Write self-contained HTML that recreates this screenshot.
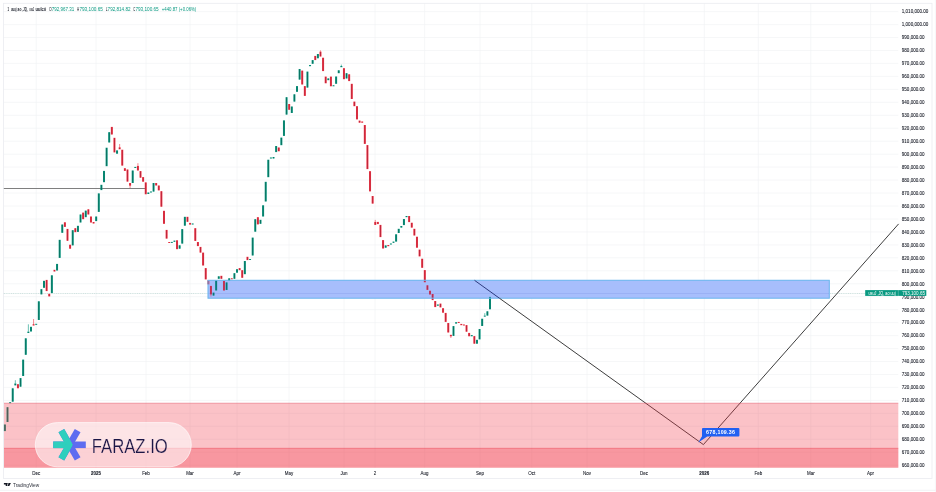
<!DOCTYPE html><html><head><meta charset="utf-8"><title>chart</title><style>
html,body{margin:0;padding:0;background:#fff;width:936px;height:492px;overflow:hidden}
svg{display:block;will-change:transform}text{font-family:"Liberation Sans",sans-serif}
</style></head><body>
<svg width="936" height="492" viewBox="0 0 936 492">
<rect x="0" y="0" width="936" height="492" fill="#fff"/>
<g stroke="#f1f2f4" stroke-width="0.65"><line x1="3.5" y1="11.6" x2="898.3" y2="11.6"/><line x1="3.5" y1="24.6" x2="898.3" y2="24.6"/><line x1="3.5" y1="37.5" x2="898.3" y2="37.5"/><line x1="3.5" y1="50.5" x2="898.3" y2="50.5"/><line x1="3.5" y1="63.4" x2="898.3" y2="63.4"/><line x1="3.5" y1="76.4" x2="898.3" y2="76.4"/><line x1="3.5" y1="89.4" x2="898.3" y2="89.4"/><line x1="3.5" y1="102.3" x2="898.3" y2="102.3"/><line x1="3.5" y1="115.3" x2="898.3" y2="115.3"/><line x1="3.5" y1="128.2" x2="898.3" y2="128.2"/><line x1="3.5" y1="141.2" x2="898.3" y2="141.2"/><line x1="3.5" y1="154.2" x2="898.3" y2="154.2"/><line x1="3.5" y1="167.1" x2="898.3" y2="167.1"/><line x1="3.5" y1="180.1" x2="898.3" y2="180.1"/><line x1="3.5" y1="193.0" x2="898.3" y2="193.0"/><line x1="3.5" y1="206.0" x2="898.3" y2="206.0"/><line x1="3.5" y1="219.0" x2="898.3" y2="219.0"/><line x1="3.5" y1="231.9" x2="898.3" y2="231.9"/><line x1="3.5" y1="244.9" x2="898.3" y2="244.9"/><line x1="3.5" y1="257.8" x2="898.3" y2="257.8"/><line x1="3.5" y1="270.8" x2="898.3" y2="270.8"/><line x1="3.5" y1="283.8" x2="898.3" y2="283.8"/><line x1="3.5" y1="296.7" x2="898.3" y2="296.7"/><line x1="3.5" y1="309.7" x2="898.3" y2="309.7"/><line x1="3.5" y1="322.6" x2="898.3" y2="322.6"/><line x1="3.5" y1="335.6" x2="898.3" y2="335.6"/><line x1="3.5" y1="348.6" x2="898.3" y2="348.6"/><line x1="3.5" y1="361.5" x2="898.3" y2="361.5"/><line x1="3.5" y1="374.5" x2="898.3" y2="374.5"/><line x1="3.5" y1="387.4" x2="898.3" y2="387.4"/><line x1="3.5" y1="400.4" x2="898.3" y2="400.4"/><line x1="3.5" y1="413.4" x2="898.3" y2="413.4"/><line x1="3.5" y1="426.3" x2="898.3" y2="426.3"/><line x1="3.5" y1="439.3" x2="898.3" y2="439.3"/><line x1="3.5" y1="452.2" x2="898.3" y2="452.2"/><line x1="3.5" y1="465.2" x2="898.3" y2="465.2"/><line x1="36.2" y1="3.5" x2="36.2" y2="467.7"/><line x1="96" y1="3.5" x2="96" y2="467.7"/><line x1="146" y1="3.5" x2="146" y2="467.7"/><line x1="190" y1="3.5" x2="190" y2="467.7"/><line x1="237" y1="3.5" x2="237" y2="467.7"/><line x1="289" y1="3.5" x2="289" y2="467.7"/><line x1="344" y1="3.5" x2="344" y2="467.7"/><line x1="375" y1="3.5" x2="375" y2="467.7"/><line x1="424.6" y1="3.5" x2="424.6" y2="467.7"/><line x1="480" y1="3.5" x2="480" y2="467.7"/><line x1="531.8" y1="3.5" x2="531.8" y2="467.7"/><line x1="587" y1="3.5" x2="587" y2="467.7"/><line x1="644" y1="3.5" x2="644" y2="467.7"/><line x1="704.3" y1="3.5" x2="704.3" y2="467.7"/><line x1="758.3" y1="3.5" x2="758.3" y2="467.7"/><line x1="810.8" y1="3.5" x2="810.8" y2="467.7"/><line x1="870.6" y1="3.5" x2="870.6" y2="467.7"/></g>
<rect x="3.4" y="3.3" width="928.6" height="475.1" fill="none" stroke="#eaecf0" stroke-width="0.8"/>
<line x1="0" y1="490.3" x2="936" y2="490.3" stroke="#f0f0f2" stroke-width="0.8"/>
<line x1="935.4" y1="0" x2="935.4" y2="492" stroke="#f4f4f6" stroke-width="0.8"/>
<line x1="3.8" y1="188.5" x2="146" y2="188.5" stroke="#707070" stroke-width="0.9"/>
<rect x="208" y="280.3" width="621.3" height="17.9" fill="#b9cbfc"/>
<g><rect x="3.90" y="424.5" width="2" height="6.6" fill="#089981"/><rect x="4.45" y="424.8" width="0.9" height="6.0" fill="#0b6e5e"/><rect x="6.51" y="407.2" width="2" height="14.8" fill="#089981"/><rect x="7.06" y="407.5" width="0.9" height="14.2" fill="#0b6e5e"/><rect x="9.12" y="402.2" width="2" height="1.0" fill="#089981"/><rect x="9.67" y="402.6" width="0.9" height="0.4" fill="#0b6e5e"/><rect x="11.72" y="388.3" width="2" height="13.4" fill="#089981"/><rect x="12.27" y="388.6" width="0.9" height="12.8" fill="#0b6e5e"/><rect x="14.33" y="383.5" width="2" height="1.9" fill="#089981"/><rect x="14.88" y="383.8" width="0.9" height="1.3" fill="#0b6e5e"/><line x1="15.33" y1="380.2" x2="15.33" y2="383.5" stroke="#089981" stroke-width="0.6"/><rect x="16.94" y="384.2" width="2" height="4.1" fill="#F23645"/><rect x="17.49" y="384.5" width="0.9" height="3.5" fill="#b8243a"/><rect x="19.55" y="378.1" width="2" height="8.6" fill="#089981"/><rect x="20.10" y="378.4" width="0.9" height="8.0" fill="#0b6e5e"/><rect x="22.16" y="359.6" width="2" height="16.4" fill="#089981"/><rect x="22.71" y="359.9" width="0.9" height="15.8" fill="#0b6e5e"/><rect x="24.76" y="338.3" width="2" height="16.5" fill="#089981"/><rect x="25.31" y="338.6" width="0.9" height="15.9" fill="#0b6e5e"/><rect x="27.37" y="331.6" width="2" height="1.4" fill="#089981"/><rect x="27.92" y="331.9" width="0.9" height="0.8" fill="#0b6e5e"/><line x1="28.37" y1="324.3" x2="28.37" y2="331.6" stroke="#089981" stroke-width="0.6"/><rect x="29.98" y="326.8" width="2" height="4.7" fill="#089981"/><rect x="30.53" y="327.1" width="0.9" height="4.1" fill="#0b6e5e"/><rect x="32.59" y="324.2" width="2" height="1.3" fill="#F23645"/><rect x="33.14" y="324.5" width="0.9" height="0.7" fill="#b8243a"/><line x1="33.59" y1="319.0" x2="33.59" y2="324.2" stroke="#F23645" stroke-width="0.6"/><rect x="35.20" y="323.8" width="2" height="1.0" fill="#089981"/><rect x="35.75" y="324.1" width="0.9" height="0.4" fill="#0b6e5e"/><rect x="37.80" y="301.3" width="2" height="18.7" fill="#089981"/><rect x="38.35" y="301.6" width="0.9" height="18.1" fill="#0b6e5e"/><rect x="40.41" y="289.2" width="2" height="5.2" fill="#089981"/><rect x="40.96" y="289.5" width="0.9" height="4.6" fill="#0b6e5e"/><rect x="43.02" y="280.8" width="2" height="7.0" fill="#089981"/><rect x="43.57" y="281.1" width="0.9" height="6.4" fill="#0b6e5e"/><rect x="45.63" y="279.9" width="2" height="11.2" fill="#F23645"/><rect x="46.18" y="280.2" width="0.9" height="10.6" fill="#b8243a"/><rect x="48.24" y="293.8" width="2" height="2.6" fill="#F23645"/><rect x="48.79" y="294.1" width="0.9" height="2.0" fill="#b8243a"/><rect x="50.85" y="275.3" width="2" height="17.8" fill="#089981"/><rect x="51.40" y="275.6" width="0.9" height="17.2" fill="#0b6e5e"/><rect x="53.45" y="269.8" width="2" height="1.7" fill="#F23645"/><rect x="54.00" y="270.1" width="0.9" height="1.1" fill="#b8243a"/><rect x="56.06" y="263.9" width="2" height="6.6" fill="#089981"/><rect x="56.61" y="264.2" width="0.9" height="6.0" fill="#0b6e5e"/><rect x="58.67" y="239.8" width="2" height="18.1" fill="#089981"/><rect x="59.22" y="240.1" width="0.9" height="17.5" fill="#0b6e5e"/><rect x="61.28" y="224.5" width="2" height="8.3" fill="#089981"/><rect x="61.83" y="224.8" width="0.9" height="7.7" fill="#0b6e5e"/><rect x="63.89" y="222.3" width="2" height="4.6" fill="#F23645"/><rect x="64.44" y="222.6" width="0.9" height="4.0" fill="#b8243a"/><rect x="66.49" y="228.9" width="2" height="11.9" fill="#F23645"/><rect x="67.04" y="229.2" width="0.9" height="11.3" fill="#b8243a"/><rect x="69.10" y="244.7" width="2" height="4.0" fill="#F23645"/><rect x="69.65" y="245.0" width="0.9" height="3.4" fill="#b8243a"/><rect x="71.71" y="230.2" width="2" height="15.2" fill="#089981"/><rect x="72.26" y="230.5" width="0.9" height="14.6" fill="#0b6e5e"/><rect x="74.32" y="228.2" width="2" height="4.0" fill="#F23645"/><rect x="74.87" y="228.5" width="0.9" height="3.4" fill="#b8243a"/><rect x="76.93" y="225.8" width="2" height="6.1" fill="#089981"/><rect x="77.48" y="226.1" width="0.9" height="5.5" fill="#0b6e5e"/><rect x="79.53" y="214.5" width="2" height="8.0" fill="#089981"/><rect x="80.08" y="214.8" width="0.9" height="7.4" fill="#0b6e5e"/><rect x="82.14" y="212.6" width="2" height="6.6" fill="#F23645"/><rect x="82.69" y="212.9" width="0.9" height="6.0" fill="#b8243a"/><rect x="84.75" y="210.6" width="2" height="6.6" fill="#089981"/><rect x="85.30" y="210.9" width="0.9" height="6.0" fill="#0b6e5e"/><rect x="87.36" y="209.3" width="2" height="5.2" fill="#F23645"/><rect x="87.91" y="209.6" width="0.9" height="4.6" fill="#b8243a"/><rect x="89.97" y="216.5" width="2" height="6.0" fill="#F23645"/><rect x="90.52" y="216.8" width="0.9" height="5.4" fill="#b8243a"/><rect x="92.57" y="222.0" width="2" height="1.5" fill="#F23645"/><rect x="93.12" y="222.3" width="0.9" height="0.9" fill="#b8243a"/><rect x="95.18" y="216.5" width="2" height="4.6" fill="#089981"/><rect x="95.73" y="216.8" width="0.9" height="4.0" fill="#0b6e5e"/><rect x="97.79" y="193.4" width="2" height="18.5" fill="#089981"/><rect x="98.34" y="193.7" width="0.9" height="17.9" fill="#0b6e5e"/><rect x="100.40" y="184.8" width="2" height="5.3" fill="#089981"/><rect x="100.95" y="185.1" width="0.9" height="4.7" fill="#0b6e5e"/><rect x="103.01" y="170.9" width="2" height="11.3" fill="#089981"/><rect x="103.56" y="171.2" width="0.9" height="10.7" fill="#0b6e5e"/><rect x="105.61" y="147.7" width="2" height="18.5" fill="#089981"/><rect x="106.16" y="148.0" width="0.9" height="17.9" fill="#0b6e5e"/><rect x="108.22" y="132.2" width="2" height="10.3" fill="#089981"/><rect x="108.77" y="132.5" width="0.9" height="9.7" fill="#0b6e5e"/><rect x="110.83" y="126.9" width="2" height="7.6" fill="#F23645"/><rect x="111.38" y="127.2" width="0.9" height="7.0" fill="#b8243a"/><rect x="113.44" y="137.8" width="2" height="14.6" fill="#F23645"/><rect x="113.99" y="138.1" width="0.9" height="14.0" fill="#b8243a"/><rect x="116.05" y="150.4" width="2" height="3.3" fill="#089981"/><rect x="116.60" y="150.7" width="0.9" height="2.7" fill="#0b6e5e"/><rect x="118.65" y="147.3" width="2" height="2.0" fill="#F23645"/><rect x="119.20" y="147.6" width="0.9" height="1.4" fill="#b8243a"/><line x1="119.65" y1="144.0" x2="119.65" y2="147.3" stroke="#F23645" stroke-width="0.6"/><rect x="121.26" y="149.7" width="2" height="15.9" fill="#F23645"/><rect x="121.81" y="150.0" width="0.9" height="15.3" fill="#b8243a"/><rect x="123.87" y="168.2" width="2" height="2.7" fill="#F23645"/><rect x="124.42" y="168.5" width="0.9" height="2.1" fill="#b8243a"/><rect x="126.48" y="169.5" width="2" height="12.1" fill="#F23645"/><rect x="127.03" y="169.8" width="0.9" height="11.5" fill="#b8243a"/><rect x="129.09" y="183.0" width="2" height="2.7" fill="#F23645"/><rect x="129.64" y="183.3" width="0.9" height="2.1" fill="#b8243a"/><line x1="130.09" y1="185.7" x2="130.09" y2="188.0" stroke="#F23645" stroke-width="0.6"/><rect x="131.70" y="170.5" width="2" height="12.5" fill="#089981"/><rect x="132.25" y="170.8" width="0.9" height="11.9" fill="#0b6e5e"/><rect x="134.30" y="166.9" width="2" height="1.1" fill="#089981"/><rect x="134.85" y="167.2" width="0.9" height="0.5" fill="#0b6e5e"/><rect x="136.91" y="165.9" width="2" height="4.6" fill="#F23645"/><rect x="137.46" y="166.2" width="0.9" height="4.0" fill="#b8243a"/><line x1="137.91" y1="163.2" x2="137.91" y2="165.9" stroke="#F23645" stroke-width="0.6"/><rect x="139.52" y="171.1" width="2" height="6.6" fill="#F23645"/><rect x="140.07" y="171.4" width="0.9" height="6.0" fill="#b8243a"/><rect x="142.13" y="177.1" width="2" height="4.6" fill="#F23645"/><rect x="142.68" y="177.4" width="0.9" height="4.0" fill="#b8243a"/><rect x="144.74" y="182.4" width="2" height="11.9" fill="#F23645"/><rect x="145.29" y="182.7" width="0.9" height="11.3" fill="#b8243a"/><rect x="147.34" y="192.5" width="2" height="1.5" fill="#089981"/><rect x="147.89" y="192.8" width="0.9" height="0.9" fill="#0b6e5e"/><rect x="149.95" y="191.5" width="2" height="1.0" fill="#089981"/><rect x="150.50" y="191.8" width="0.9" height="0.4" fill="#0b6e5e"/><rect x="152.56" y="183.0" width="2" height="8.6" fill="#089981"/><rect x="153.11" y="183.3" width="0.9" height="8.0" fill="#0b6e5e"/><rect x="155.17" y="183.0" width="2" height="2.5" fill="#F23645"/><rect x="155.72" y="183.3" width="0.9" height="1.9" fill="#b8243a"/><rect x="157.78" y="185.5" width="2" height="4.9" fill="#F23645"/><rect x="158.33" y="185.8" width="0.9" height="4.3" fill="#b8243a"/><rect x="160.38" y="191.2" width="2" height="15.5" fill="#F23645"/><rect x="160.93" y="191.5" width="0.9" height="14.9" fill="#b8243a"/><rect x="162.99" y="210.8" width="2" height="13.0" fill="#F23645"/><rect x="163.54" y="211.1" width="0.9" height="12.4" fill="#b8243a"/><rect x="165.60" y="229.9" width="2" height="8.7" fill="#F23645"/><rect x="166.15" y="230.2" width="0.9" height="8.1" fill="#b8243a"/><rect x="168.21" y="242.0" width="2" height="1.0" fill="#F23645"/><rect x="168.76" y="242.3" width="0.9" height="0.4" fill="#b8243a"/><rect x="170.82" y="241.9" width="2" height="1.0" fill="#089981"/><rect x="171.37" y="242.2" width="0.9" height="0.4" fill="#0b6e5e"/><rect x="173.42" y="240.6" width="2" height="1.2" fill="#089981"/><rect x="173.97" y="240.9" width="0.9" height="0.6" fill="#0b6e5e"/><rect x="176.03" y="240.3" width="2" height="8.9" fill="#F23645"/><rect x="176.58" y="240.6" width="0.9" height="8.3" fill="#b8243a"/><rect x="178.64" y="245.3" width="2" height="3.4" fill="#089981"/><rect x="179.19" y="245.6" width="0.9" height="2.8" fill="#0b6e5e"/><rect x="181.25" y="229.1" width="2" height="14.5" fill="#089981"/><rect x="181.80" y="229.4" width="0.9" height="13.9" fill="#0b6e5e"/><rect x="183.86" y="216.8" width="2" height="8.9" fill="#089981"/><rect x="184.41" y="217.1" width="0.9" height="8.3" fill="#0b6e5e"/><rect x="186.46" y="216.8" width="2" height="5.0" fill="#F23645"/><rect x="187.01" y="217.1" width="0.9" height="4.4" fill="#b8243a"/><rect x="189.07" y="222.9" width="2" height="1.7" fill="#F23645"/><rect x="189.62" y="223.2" width="0.9" height="1.1" fill="#b8243a"/><rect x="191.68" y="223.5" width="2" height="1.0" fill="#089981"/><rect x="192.23" y="223.8" width="0.9" height="0.4" fill="#0b6e5e"/><rect x="194.29" y="228.2" width="2" height="12.7" fill="#F23645"/><rect x="194.84" y="228.5" width="0.9" height="12.1" fill="#b8243a"/><rect x="196.90" y="242.0" width="2" height="4.1" fill="#F23645"/><rect x="197.45" y="242.3" width="0.9" height="3.5" fill="#b8243a"/><rect x="199.50" y="246.9" width="2" height="5.7" fill="#F23645"/><rect x="200.05" y="247.2" width="0.9" height="5.1" fill="#b8243a"/><rect x="202.11" y="252.6" width="2" height="12.9" fill="#F23645"/><rect x="202.66" y="252.9" width="0.9" height="12.3" fill="#b8243a"/><rect x="204.72" y="268.1" width="2" height="11.3" fill="#F23645"/><rect x="205.27" y="268.4" width="0.9" height="10.7" fill="#b8243a"/><rect x="207.33" y="280.3" width="2" height="4.1" fill="#F23645"/><rect x="207.88" y="280.6" width="0.9" height="3.5" fill="#b8243a"/><rect x="209.94" y="285.9" width="2" height="8.6" fill="#F23645"/><rect x="210.49" y="286.2" width="0.9" height="8.0" fill="#b8243a"/><line x1="210.94" y1="294.5" x2="210.94" y2="296.5" stroke="#F23645" stroke-width="0.6"/><rect x="212.55" y="292.6" width="2" height="3.0" fill="#089981"/><rect x="213.10" y="292.9" width="0.9" height="2.4" fill="#0b6e5e"/><rect x="215.15" y="280.3" width="2" height="10.2" fill="#089981"/><rect x="215.70" y="280.6" width="0.9" height="9.6" fill="#0b6e5e"/><rect x="217.76" y="276.3" width="2" height="2.5" fill="#089981"/><rect x="218.31" y="276.6" width="0.9" height="1.9" fill="#0b6e5e"/><rect x="220.37" y="275.8" width="2" height="3.0" fill="#F23645"/><rect x="220.92" y="276.1" width="0.9" height="2.4" fill="#b8243a"/><rect x="222.98" y="280.9" width="2" height="9.6" fill="#F23645"/><rect x="223.53" y="281.2" width="0.9" height="9.0" fill="#b8243a"/><rect x="225.59" y="282.4" width="2" height="7.6" fill="#089981"/><rect x="226.14" y="282.7" width="0.9" height="7.0" fill="#0b6e5e"/><rect x="228.19" y="278.3" width="2" height="2.6" fill="#089981"/><rect x="228.74" y="278.6" width="0.9" height="2.0" fill="#0b6e5e"/><rect x="230.80" y="278.3" width="2" height="1.0" fill="#F23645"/><rect x="231.35" y="278.6" width="0.9" height="0.4" fill="#b8243a"/><rect x="233.41" y="273.2" width="2" height="5.6" fill="#089981"/><rect x="233.96" y="273.5" width="0.9" height="5.0" fill="#0b6e5e"/><rect x="236.02" y="269.2" width="2" height="3.5" fill="#089981"/><rect x="236.57" y="269.5" width="0.9" height="2.9" fill="#0b6e5e"/><rect x="238.63" y="268.1" width="2" height="2.1" fill="#F23645"/><rect x="239.18" y="268.4" width="0.9" height="1.5" fill="#b8243a"/><rect x="241.23" y="270.2" width="2" height="7.6" fill="#F23645"/><rect x="241.78" y="270.5" width="0.9" height="7.0" fill="#b8243a"/><rect x="243.84" y="261.0" width="2" height="13.2" fill="#089981"/><rect x="244.39" y="261.3" width="0.9" height="12.6" fill="#0b6e5e"/><rect x="246.45" y="256.8" width="2" height="3.3" fill="#F23645"/><rect x="247.00" y="257.1" width="0.9" height="2.7" fill="#b8243a"/><rect x="249.06" y="259.0" width="2" height="1.0" fill="#089981"/><rect x="249.61" y="259.3" width="0.9" height="0.4" fill="#0b6e5e"/><rect x="251.67" y="237.6" width="2" height="17.9" fill="#089981"/><rect x="252.22" y="237.9" width="0.9" height="17.3" fill="#0b6e5e"/><rect x="254.27" y="219.2" width="2" height="12.5" fill="#089981"/><rect x="254.82" y="219.5" width="0.9" height="11.9" fill="#0b6e5e"/><rect x="256.88" y="217.2" width="2" height="7.2" fill="#F23645"/><rect x="257.43" y="217.5" width="0.9" height="6.6" fill="#b8243a"/><rect x="259.49" y="219.8" width="2" height="4.0" fill="#089981"/><rect x="260.04" y="220.1" width="0.9" height="3.4" fill="#0b6e5e"/><rect x="262.10" y="205.3" width="2" height="11.2" fill="#089981"/><rect x="262.65" y="205.6" width="0.9" height="10.6" fill="#0b6e5e"/><rect x="264.71" y="181.8" width="2" height="19.7" fill="#089981"/><rect x="265.26" y="182.1" width="0.9" height="19.1" fill="#0b6e5e"/><rect x="267.31" y="159.7" width="2" height="17.5" fill="#089981"/><rect x="267.86" y="160.0" width="0.9" height="16.9" fill="#0b6e5e"/><rect x="269.92" y="157.5" width="2" height="1.0" fill="#089981"/><rect x="270.47" y="157.8" width="0.9" height="0.4" fill="#0b6e5e"/><rect x="272.53" y="157.0" width="2" height="1.5" fill="#089981"/><rect x="273.08" y="157.3" width="0.9" height="0.9" fill="#0b6e5e"/><rect x="275.14" y="146.0" width="2" height="6.1" fill="#089981"/><rect x="275.69" y="146.3" width="0.9" height="5.5" fill="#0b6e5e"/><rect x="277.75" y="147.5" width="2" height="3.8" fill="#F23645"/><rect x="278.30" y="147.8" width="0.9" height="3.2" fill="#b8243a"/><rect x="280.35" y="137.6" width="2" height="7.6" fill="#089981"/><rect x="280.90" y="137.9" width="0.9" height="7.0" fill="#0b6e5e"/><rect x="282.96" y="120.4" width="2" height="15.5" fill="#089981"/><rect x="283.51" y="120.7" width="0.9" height="14.9" fill="#0b6e5e"/><rect x="285.57" y="97.2" width="2" height="17.4" fill="#089981"/><rect x="286.12" y="97.5" width="0.9" height="16.8" fill="#0b6e5e"/><rect x="288.18" y="104.0" width="2" height="5.8" fill="#F23645"/><rect x="288.73" y="104.3" width="0.9" height="5.2" fill="#b8243a"/><rect x="290.79" y="106.5" width="2" height="6.5" fill="#089981"/><rect x="291.34" y="106.8" width="0.9" height="5.9" fill="#0b6e5e"/><rect x="293.40" y="94.3" width="2" height="7.3" fill="#089981"/><rect x="293.95" y="94.6" width="0.9" height="6.7" fill="#0b6e5e"/><rect x="296.00" y="86.1" width="2" height="5.7" fill="#089981"/><rect x="296.55" y="86.4" width="0.9" height="5.1" fill="#0b6e5e"/><rect x="298.61" y="69.0" width="2" height="10.6" fill="#089981"/><rect x="299.16" y="69.3" width="0.9" height="10.0" fill="#0b6e5e"/><rect x="301.22" y="70.6" width="2" height="13.9" fill="#F23645"/><rect x="301.77" y="70.9" width="0.9" height="13.3" fill="#b8243a"/><rect x="303.83" y="86.1" width="2" height="9.8" fill="#F23645"/><rect x="304.38" y="86.4" width="0.9" height="9.2" fill="#b8243a"/><rect x="306.44" y="71.6" width="2" height="16.0" fill="#089981"/><rect x="306.99" y="71.9" width="0.9" height="15.4" fill="#0b6e5e"/><rect x="309.04" y="65.0" width="2" height="1.2" fill="#089981"/><rect x="309.59" y="65.3" width="0.9" height="0.6" fill="#0b6e5e"/><rect x="311.65" y="60.1" width="2" height="3.7" fill="#089981"/><rect x="312.20" y="60.4" width="0.9" height="3.1" fill="#0b6e5e"/><rect x="314.26" y="55.9" width="2" height="4.2" fill="#F23645"/><rect x="314.81" y="56.2" width="0.9" height="3.6" fill="#b8243a"/><rect x="316.87" y="54.0" width="2" height="4.3" fill="#089981"/><rect x="317.42" y="54.3" width="0.9" height="3.7" fill="#0b6e5e"/><rect x="319.48" y="51.6" width="2" height="4.9" fill="#F23645"/><rect x="320.03" y="51.9" width="0.9" height="4.3" fill="#b8243a"/><line x1="320.48" y1="50.4" x2="320.48" y2="51.6" stroke="#F23645" stroke-width="0.6"/><rect x="322.08" y="57.7" width="2" height="13.4" fill="#F23645"/><rect x="322.63" y="58.0" width="0.9" height="12.8" fill="#b8243a"/><rect x="324.69" y="76.6" width="2" height="6.7" fill="#F23645"/><rect x="325.24" y="76.9" width="0.9" height="6.1" fill="#b8243a"/><rect x="327.30" y="78.4" width="2" height="1.8" fill="#089981"/><rect x="327.85" y="78.7" width="0.9" height="1.2" fill="#0b6e5e"/><rect x="329.91" y="76.6" width="2" height="9.7" fill="#F23645"/><rect x="330.46" y="76.9" width="0.9" height="9.1" fill="#b8243a"/><rect x="332.52" y="85.3" width="2" height="1.0" fill="#089981"/><rect x="333.07" y="85.6" width="0.9" height="0.4" fill="#0b6e5e"/><rect x="335.12" y="76.5" width="2" height="7.3" fill="#089981"/><rect x="335.67" y="76.8" width="0.9" height="6.7" fill="#0b6e5e"/><rect x="337.73" y="70.3" width="2" height="2.9" fill="#089981"/><rect x="338.28" y="70.6" width="0.9" height="2.3" fill="#0b6e5e"/><rect x="340.34" y="66.0" width="2" height="1.2" fill="#089981"/><rect x="340.89" y="66.3" width="0.9" height="0.6" fill="#0b6e5e"/><line x1="341.34" y1="64.6" x2="341.34" y2="66.0" stroke="#089981" stroke-width="0.6"/><rect x="342.95" y="68.2" width="2" height="11.0" fill="#F23645"/><rect x="343.50" y="68.5" width="0.9" height="10.4" fill="#b8243a"/><rect x="345.56" y="73.2" width="2" height="5.3" fill="#089981"/><rect x="346.11" y="73.5" width="0.9" height="4.7" fill="#0b6e5e"/><rect x="348.16" y="74.3" width="2" height="6.8" fill="#F23645"/><rect x="348.71" y="74.6" width="0.9" height="6.2" fill="#b8243a"/><rect x="350.77" y="83.8" width="2" height="15.2" fill="#F23645"/><rect x="351.32" y="84.1" width="0.9" height="14.6" fill="#b8243a"/><rect x="353.38" y="101.6" width="2" height="4.6" fill="#F23645"/><rect x="353.93" y="101.9" width="0.9" height="4.0" fill="#b8243a"/><rect x="355.99" y="106.2" width="2" height="13.2" fill="#F23645"/><rect x="356.54" y="106.5" width="0.9" height="12.6" fill="#b8243a"/><rect x="358.60" y="120.6" width="2" height="2.1" fill="#F23645"/><rect x="359.15" y="120.9" width="0.9" height="1.5" fill="#b8243a"/><rect x="361.20" y="121.5" width="2" height="1.2" fill="#F23645"/><rect x="361.75" y="121.8" width="0.9" height="0.6" fill="#b8243a"/><rect x="363.81" y="125.0" width="2" height="18.9" fill="#F23645"/><rect x="364.36" y="125.3" width="0.9" height="18.3" fill="#b8243a"/><rect x="366.42" y="145.1" width="2" height="24.0" fill="#F23645"/><rect x="366.97" y="145.4" width="0.9" height="23.4" fill="#b8243a"/><rect x="369.03" y="171.2" width="2" height="20.2" fill="#F23645"/><rect x="369.58" y="171.5" width="0.9" height="19.6" fill="#b8243a"/><rect x="371.64" y="196.0" width="2" height="7.6" fill="#F23645"/><rect x="372.19" y="196.3" width="0.9" height="7.0" fill="#b8243a"/><rect x="374.25" y="221.9" width="2" height="3.0" fill="#F23645"/><rect x="374.80" y="222.2" width="0.9" height="2.4" fill="#b8243a"/><line x1="375.25" y1="219.9" x2="375.25" y2="221.9" stroke="#F23645" stroke-width="0.6"/><rect x="376.85" y="221.9" width="2" height="2.2" fill="#F23645"/><rect x="377.40" y="222.2" width="0.9" height="1.6" fill="#b8243a"/><rect x="379.46" y="224.9" width="2" height="12.2" fill="#F23645"/><rect x="380.01" y="225.2" width="0.9" height="11.6" fill="#b8243a"/><rect x="382.07" y="240.1" width="2" height="8.4" fill="#F23645"/><rect x="382.62" y="240.4" width="0.9" height="7.8" fill="#b8243a"/><rect x="384.68" y="245.4" width="2" height="2.3" fill="#089981"/><rect x="385.23" y="245.7" width="0.9" height="1.7" fill="#0b6e5e"/><rect x="387.29" y="245.0" width="2" height="1.2" fill="#F23645"/><rect x="387.84" y="245.3" width="0.9" height="0.6" fill="#b8243a"/><rect x="389.89" y="243.5" width="2" height="1.0" fill="#089981"/><rect x="390.44" y="243.8" width="0.9" height="0.4" fill="#0b6e5e"/><rect x="392.50" y="241.6" width="2" height="1.2" fill="#089981"/><rect x="393.05" y="241.9" width="0.9" height="0.6" fill="#0b6e5e"/><rect x="395.11" y="234.3" width="2" height="7.3" fill="#089981"/><rect x="395.66" y="234.6" width="0.9" height="6.7" fill="#0b6e5e"/><rect x="397.72" y="228.8" width="2" height="4.2" fill="#089981"/><rect x="398.27" y="229.1" width="0.9" height="3.6" fill="#0b6e5e"/><rect x="400.33" y="226.0" width="2" height="1.6" fill="#089981"/><rect x="400.88" y="226.3" width="0.9" height="1.0" fill="#0b6e5e"/><rect x="402.93" y="219.0" width="2" height="6.1" fill="#089981"/><rect x="403.48" y="219.3" width="0.9" height="5.5" fill="#0b6e5e"/><rect x="405.54" y="216.0" width="2" height="1.2" fill="#089981"/><rect x="406.09" y="216.3" width="0.9" height="0.6" fill="#0b6e5e"/><rect x="408.15" y="216.0" width="2" height="6.1" fill="#F23645"/><rect x="408.70" y="216.3" width="0.9" height="5.5" fill="#b8243a"/><rect x="410.76" y="222.7" width="2" height="4.9" fill="#F23645"/><rect x="411.31" y="223.0" width="0.9" height="4.3" fill="#b8243a"/><rect x="413.37" y="228.8" width="2" height="6.7" fill="#F23645"/><rect x="413.92" y="229.1" width="0.9" height="6.1" fill="#b8243a"/><rect x="415.97" y="236.7" width="2" height="11.0" fill="#F23645"/><rect x="416.52" y="237.0" width="0.9" height="10.4" fill="#b8243a"/><rect x="418.58" y="249.6" width="2" height="6.8" fill="#F23645"/><rect x="419.13" y="249.9" width="0.9" height="6.2" fill="#b8243a"/><rect x="421.19" y="258.7" width="2" height="9.1" fill="#F23645"/><rect x="421.74" y="259.0" width="0.9" height="8.5" fill="#b8243a"/><rect x="423.80" y="270.1" width="2" height="12.2" fill="#F23645"/><rect x="424.35" y="270.4" width="0.9" height="11.6" fill="#b8243a"/><rect x="426.41" y="285.3" width="2" height="4.6" fill="#F23645"/><rect x="426.96" y="285.6" width="0.9" height="4.0" fill="#b8243a"/><rect x="429.01" y="290.7" width="2" height="3.8" fill="#F23645"/><rect x="429.56" y="291.0" width="0.9" height="3.2" fill="#b8243a"/><rect x="431.62" y="294.0" width="2" height="6.1" fill="#F23645"/><rect x="432.17" y="294.3" width="0.9" height="5.5" fill="#b8243a"/><rect x="434.23" y="301.0" width="2" height="6.1" fill="#F23645"/><rect x="434.78" y="301.3" width="0.9" height="5.5" fill="#b8243a"/><rect x="436.84" y="304.5" width="2" height="1.2" fill="#089981"/><rect x="437.39" y="304.8" width="0.9" height="0.6" fill="#0b6e5e"/><rect x="439.45" y="303.6" width="2" height="3.8" fill="#F23645"/><rect x="440.00" y="303.9" width="0.9" height="3.2" fill="#b8243a"/><rect x="442.05" y="308.2" width="2" height="4.5" fill="#F23645"/><rect x="442.60" y="308.5" width="0.9" height="3.9" fill="#b8243a"/><rect x="444.66" y="312.9" width="2" height="9.0" fill="#F23645"/><rect x="445.21" y="313.2" width="0.9" height="8.4" fill="#b8243a"/><rect x="447.27" y="323.0" width="2" height="9.5" fill="#F23645"/><rect x="447.82" y="323.3" width="0.9" height="8.9" fill="#b8243a"/><rect x="449.88" y="334.8" width="2" height="1.6" fill="#F23645"/><rect x="450.43" y="335.1" width="0.9" height="1.0" fill="#b8243a"/><line x1="450.88" y1="336.4" x2="450.88" y2="338.0" stroke="#F23645" stroke-width="0.6"/><rect x="452.49" y="326.1" width="2" height="9.8" fill="#089981"/><rect x="453.04" y="326.4" width="0.9" height="9.2" fill="#0b6e5e"/><rect x="455.10" y="322.2" width="2" height="1.4" fill="#089981"/><rect x="455.65" y="322.5" width="0.9" height="0.8" fill="#0b6e5e"/><rect x="457.70" y="321.9" width="2" height="1.1" fill="#F23645"/><rect x="458.25" y="322.2" width="0.9" height="0.5" fill="#b8243a"/><rect x="460.31" y="323.9" width="2" height="1.3" fill="#F23645"/><rect x="460.86" y="324.2" width="0.9" height="0.7" fill="#b8243a"/><rect x="462.92" y="324.5" width="2" height="1.0" fill="#F23645"/><rect x="463.47" y="324.8" width="0.9" height="0.4" fill="#b8243a"/><rect x="465.53" y="325.1" width="2" height="6.6" fill="#F23645"/><rect x="466.08" y="325.4" width="0.9" height="6.0" fill="#b8243a"/><rect x="468.14" y="332.9" width="2" height="3.4" fill="#F23645"/><rect x="468.69" y="333.2" width="0.9" height="2.8" fill="#b8243a"/><rect x="470.74" y="335.1" width="2" height="1.2" fill="#089981"/><rect x="471.29" y="335.4" width="0.9" height="0.6" fill="#0b6e5e"/><rect x="473.35" y="336.1" width="2" height="7.6" fill="#F23645"/><rect x="473.90" y="336.4" width="0.9" height="7.0" fill="#b8243a"/><rect x="475.96" y="339.8" width="2" height="3.9" fill="#089981"/><rect x="476.51" y="340.1" width="0.9" height="3.3" fill="#0b6e5e"/><rect x="478.57" y="329.0" width="2" height="10.4" fill="#089981"/><rect x="479.12" y="329.3" width="0.9" height="9.8" fill="#0b6e5e"/><rect x="481.18" y="318.7" width="2" height="7.3" fill="#089981"/><rect x="481.73" y="319.0" width="0.9" height="6.7" fill="#0b6e5e"/><rect x="483.78" y="315.6" width="2" height="1.0" fill="#089981"/><rect x="484.33" y="315.9" width="0.9" height="0.4" fill="#0b6e5e"/><line x1="484.78" y1="313.2" x2="484.78" y2="315.6" stroke="#089981" stroke-width="0.6"/><rect x="486.39" y="311.3" width="2" height="4.3" fill="#089981"/><rect x="486.94" y="311.6" width="0.9" height="3.7" fill="#0b6e5e"/><rect x="489.00" y="296.9" width="2" height="12.4" fill="#089981"/><rect x="489.55" y="297.2" width="0.9" height="11.8" fill="#0b6e5e"/></g>
<rect x="208" y="280.3" width="621.3" height="17.9" fill="rgba(41,98,255,0.12)" stroke="#6cb6ee" stroke-width="1.05"/>
<line x1="208.5" y1="293.5" x2="829" y2="293.5" stroke="rgba(50,80,190,0.13)" stroke-width="0.9"/>
<line x1="3.8" y1="293.5" x2="207.6" y2="293.5" stroke="#5a9a90" stroke-opacity="0.35" stroke-width="0.8" stroke-dasharray="1.2,0.6"/>
<line x1="830" y1="293.5" x2="865" y2="293.5" stroke="#5a9a90" stroke-opacity="0.35" stroke-width="0.8" stroke-dasharray="1.2,0.6"/>
<polyline points="499.4,298.2 703.4,444.6 898.6,223.9" fill="none" stroke="#333" stroke-width="0.95"/>
<line x1="474.5" y1="280.3" x2="499.4" y2="298.2" stroke="#2d3c80" stroke-width="1"/>
<rect x="4" y="403.2" width="894.3" height="64.5" fill="rgba(242,54,69,0.3)"/>
<line x1="4" y1="403.2" x2="898.3" y2="403.2" stroke="rgba(220,60,80,0.45)" stroke-width="0.9"/>
<rect x="4" y="448.3" width="894.3" height="19.399999999999977" fill="rgba(242,54,69,0.3)"/>
<line x1="4" y1="448.3" x2="898.3" y2="448.3" stroke="rgba(235,60,80,0.5)" stroke-width="0.9"/>
<path d="M703,428.1 h35.4 q1,0 1,1 v6.5 q0,1 -1,1 H707.2 L698.3,442.4 L702,436.2 V429.1 q0,-1 1,-1 z" fill="#2160f2"/>
<text x="706" y="434.4" font-size="5.3" font-weight="bold" fill="#fff" textLength="29" lengthAdjust="spacing">678,109.36</text>
<rect x="35.3" y="422.6" width="156" height="44.2" rx="22.1" fill="rgba(255,255,255,0.56)" stroke="rgba(255,255,255,0.8)" stroke-width="0.8"/>
<defs><clipPath id="tl"><polygon points="40,415 68.5,415 68.5,436.8 72.5,444.8 68.5,452.8 68.5,475 40,475"/></clipPath></defs>
<g><rect x="53.2" y="441.5" width="32.6" height="6.6" fill="#5e6cf0" transform="rotate(0 69.5 444.8)"/><rect x="53.2" y="441.5" width="32.6" height="6.6" fill="#5e6cf0" transform="rotate(60 69.5 444.8)"/><rect x="53.2" y="441.5" width="32.6" height="6.6" fill="#5e6cf0" transform="rotate(-60 69.5 444.8)"/></g>
<g clip-path="url(#tl)"><rect x="53.2" y="441.5" width="32.6" height="6.6" fill="#2fcfbd" transform="rotate(0 69.5 444.8)"/><rect x="53.2" y="441.5" width="32.6" height="6.6" fill="#2fcfbd" transform="rotate(60 69.5 444.8)"/><rect x="53.2" y="441.5" width="32.6" height="6.6" fill="#2fcfbd" transform="rotate(-60 69.5 444.8)"/></g>
<text x="91.8" y="452.5" font-size="20.2" fill="#1c1646" stroke="#fbdfe2" stroke-width="0.2" textLength="76" lengthAdjust="spacingAndGlyphs">FARAZ.IO</text>
<g font-size="5" fill="#131722" stroke="#131722" stroke-width="0.08"><text x="901.8" y="13.4" textLength="26.56" lengthAdjust="spacingAndGlyphs">1,010,000.00</text><text x="901.8" y="26.4" textLength="26.56" lengthAdjust="spacingAndGlyphs">1,000,000.00</text><text x="901.8" y="39.3" textLength="22.77" lengthAdjust="spacingAndGlyphs">990,000.00</text><text x="901.8" y="52.3" textLength="22.77" lengthAdjust="spacingAndGlyphs">980,000.00</text><text x="901.8" y="65.2" textLength="22.77" lengthAdjust="spacingAndGlyphs">970,000.00</text><text x="901.8" y="78.2" textLength="22.77" lengthAdjust="spacingAndGlyphs">960,000.00</text><text x="901.8" y="91.2" textLength="22.77" lengthAdjust="spacingAndGlyphs">950,000.00</text><text x="901.8" y="104.1" textLength="22.77" lengthAdjust="spacingAndGlyphs">940,000.00</text><text x="901.8" y="117.1" textLength="22.77" lengthAdjust="spacingAndGlyphs">930,000.00</text><text x="901.8" y="130.0" textLength="22.77" lengthAdjust="spacingAndGlyphs">920,000.00</text><text x="901.8" y="143.0" textLength="22.77" lengthAdjust="spacingAndGlyphs">910,000.00</text><text x="901.8" y="156.0" textLength="22.77" lengthAdjust="spacingAndGlyphs">900,000.00</text><text x="901.8" y="168.9" textLength="22.77" lengthAdjust="spacingAndGlyphs">890,000.00</text><text x="901.8" y="181.9" textLength="22.77" lengthAdjust="spacingAndGlyphs">880,000.00</text><text x="901.8" y="194.8" textLength="22.77" lengthAdjust="spacingAndGlyphs">870,000.00</text><text x="901.8" y="207.8" textLength="22.77" lengthAdjust="spacingAndGlyphs">860,000.00</text><text x="901.8" y="220.8" textLength="22.77" lengthAdjust="spacingAndGlyphs">850,000.00</text><text x="901.8" y="233.7" textLength="22.77" lengthAdjust="spacingAndGlyphs">840,000.00</text><text x="901.8" y="246.7" textLength="22.77" lengthAdjust="spacingAndGlyphs">830,000.00</text><text x="901.8" y="259.6" textLength="22.77" lengthAdjust="spacingAndGlyphs">820,000.00</text><text x="901.8" y="272.6" textLength="22.77" lengthAdjust="spacingAndGlyphs">810,000.00</text><text x="901.8" y="285.6" textLength="22.77" lengthAdjust="spacingAndGlyphs">800,000.00</text><text x="901.8" y="298.5" textLength="22.77" lengthAdjust="spacingAndGlyphs">790,000.00</text><text x="901.8" y="311.5" textLength="22.77" lengthAdjust="spacingAndGlyphs">780,000.00</text><text x="901.8" y="324.4" textLength="22.77" lengthAdjust="spacingAndGlyphs">770,000.00</text><text x="901.8" y="337.4" textLength="22.77" lengthAdjust="spacingAndGlyphs">760,000.00</text><text x="901.8" y="350.4" textLength="22.77" lengthAdjust="spacingAndGlyphs">750,000.00</text><text x="901.8" y="363.3" textLength="22.77" lengthAdjust="spacingAndGlyphs">740,000.00</text><text x="901.8" y="376.3" textLength="22.77" lengthAdjust="spacingAndGlyphs">730,000.00</text><text x="901.8" y="389.2" textLength="22.77" lengthAdjust="spacingAndGlyphs">720,000.00</text><text x="901.8" y="402.2" textLength="22.77" lengthAdjust="spacingAndGlyphs">710,000.00</text><text x="901.8" y="415.2" textLength="22.77" lengthAdjust="spacingAndGlyphs">700,000.00</text><text x="901.8" y="428.1" textLength="22.77" lengthAdjust="spacingAndGlyphs">690,000.00</text><text x="901.8" y="441.1" textLength="22.77" lengthAdjust="spacingAndGlyphs">680,000.00</text><text x="901.8" y="454.0" textLength="22.77" lengthAdjust="spacingAndGlyphs">670,000.00</text><text x="901.8" y="467.0" textLength="22.77" lengthAdjust="spacingAndGlyphs">660,000.00</text></g>
<rect x="865.2" y="290.1" width="61.1" height="5.8" fill="#089981"/>
<line x1="898.3" y1="290.1" x2="898.3" y2="295.9" stroke="#fff" stroke-width="0.4" stroke-opacity="0.6"/>
<text x="902.2" y="294.8" font-size="5" fill="#fff" textLength="22.77" lengthAdjust="spacingAndGlyphs">793,100.65</text>
<text x="868.5" y="294.6" font-size="4.6" fill="#fff" textLength="27" lengthAdjust="spacingAndGlyphs">usuJ ,JQ, ao uuj</text>
<g font-size="5.2" fill="#131722" stroke="#131722" stroke-width="0.08"><text x="32.22" y="475.2" textLength="7.95" lengthAdjust="spacingAndGlyphs">Dec</text><text x="91.03" y="475.2" textLength="9.95" lengthAdjust="spacingAndGlyphs" font-weight="bold">2025</text><text x="142.15" y="475.2" textLength="7.71" lengthAdjust="spacingAndGlyphs">Feb</text><text x="186.15" y="475.2" textLength="7.70" lengthAdjust="spacingAndGlyphs">Mar</text><text x="233.52" y="475.2" textLength="6.96" lengthAdjust="spacingAndGlyphs">Apr</text><text x="284.78" y="475.2" textLength="8.45" lengthAdjust="spacingAndGlyphs">May</text><text x="340.40" y="475.2" textLength="7.21" lengthAdjust="spacingAndGlyphs">Jun</text><text x="373.76" y="475.2" textLength="2.49" lengthAdjust="spacingAndGlyphs">2</text><text x="420.62" y="475.2" textLength="7.96" lengthAdjust="spacingAndGlyphs">Aug</text><text x="476.02" y="475.2" textLength="7.96" lengthAdjust="spacingAndGlyphs">Sep</text><text x="528.32" y="475.2" textLength="6.96" lengthAdjust="spacingAndGlyphs">Oct</text><text x="583.02" y="475.2" textLength="7.95" lengthAdjust="spacingAndGlyphs">Nov</text><text x="640.02" y="475.2" textLength="7.95" lengthAdjust="spacingAndGlyphs">Dec</text><text x="699.33" y="475.2" textLength="9.95" lengthAdjust="spacingAndGlyphs" font-weight="bold">2026</text><text x="754.45" y="475.2" textLength="7.71" lengthAdjust="spacingAndGlyphs">Feb</text><text x="806.95" y="475.2" textLength="7.70" lengthAdjust="spacingAndGlyphs">Mar</text><text x="867.12" y="475.2" textLength="6.96" lengthAdjust="spacingAndGlyphs">Apr</text></g>
<text x="7.5" y="11.3" font-size="5.4" fill="#131722" textLength="1.50" lengthAdjust="spacingAndGlyphs" font-weight="bold">1</text><text x="11" y="11.3" font-size="5.4" fill="#131722" textLength="5.50" lengthAdjust="spacingAndGlyphs" font-weight="bold">uuuj</text><text x="17.6" y="11.3" font-size="5.4" fill="#131722" textLength="3.80" lengthAdjust="spacingAndGlyphs" font-weight="bold">ao</text><text x="22.6" y="11.3" font-size="5.4" fill="#131722" textLength="4.90" lengthAdjust="spacingAndGlyphs" font-weight="bold">,JQ,</text><text x="29.6" y="11.3" font-size="5.4" fill="#131722" textLength="4.40" lengthAdjust="spacingAndGlyphs" font-weight="bold">usuJ</text><text x="35.5" y="11.3" font-size="5.4" fill="#131722" textLength="10.80" lengthAdjust="spacingAndGlyphs" font-weight="bold">uulcó</text>
<text x="48.9" y="11.3" font-size="5.4" fill="#131722" textLength="2.70" lengthAdjust="spacingAndGlyphs">O</text><text x="51.8" y="11.3" font-size="5.4" fill="#089981" textLength="22.50" lengthAdjust="spacingAndGlyphs">792,967.31</text><text x="77.1" y="11.3" font-size="5.4" fill="#131722" textLength="2.20" lengthAdjust="spacingAndGlyphs">H</text><text x="79.4" y="11.3" font-size="5.4" fill="#089981" textLength="23.50" lengthAdjust="spacingAndGlyphs">793,100.65</text><text x="105.7" y="11.3" font-size="5.4" fill="#131722" textLength="1.80" lengthAdjust="spacingAndGlyphs">L</text><text x="107.6" y="11.3" font-size="5.4" fill="#089981" textLength="22.90" lengthAdjust="spacingAndGlyphs">792,814.82</text><text x="133.3" y="11.3" font-size="5.4" fill="#131722" textLength="2.00" lengthAdjust="spacingAndGlyphs">C</text><text x="135.4" y="11.3" font-size="5.4" fill="#089981" textLength="23.30" lengthAdjust="spacingAndGlyphs">793,100.65</text><text x="161.7" y="11.3" font-size="5.4" fill="#089981" textLength="15.80" lengthAdjust="spacingAndGlyphs">+440.87</text><text x="178.7" y="11.3" font-size="5.4" fill="#089981" textLength="17.60" lengthAdjust="spacingAndGlyphs">(+0.06%)</text>
<path d="M3.9,483.1 h3.3 v3.0 h-1.5 v-1.7 h-1.8 z" fill="#131722"/>
<circle cx="8.0" cy="483.8" r="0.72" fill="#131722"/>
<path d="M9.0,483.1 h1.9 l-1.6,3.0 h-1.9 z" fill="#131722"/>
<text x="12.9" y="486.5" font-size="4.5" fill="#2a2e39" textLength="26.3" lengthAdjust="spacingAndGlyphs">TradingView</text>
</svg></body></html>
